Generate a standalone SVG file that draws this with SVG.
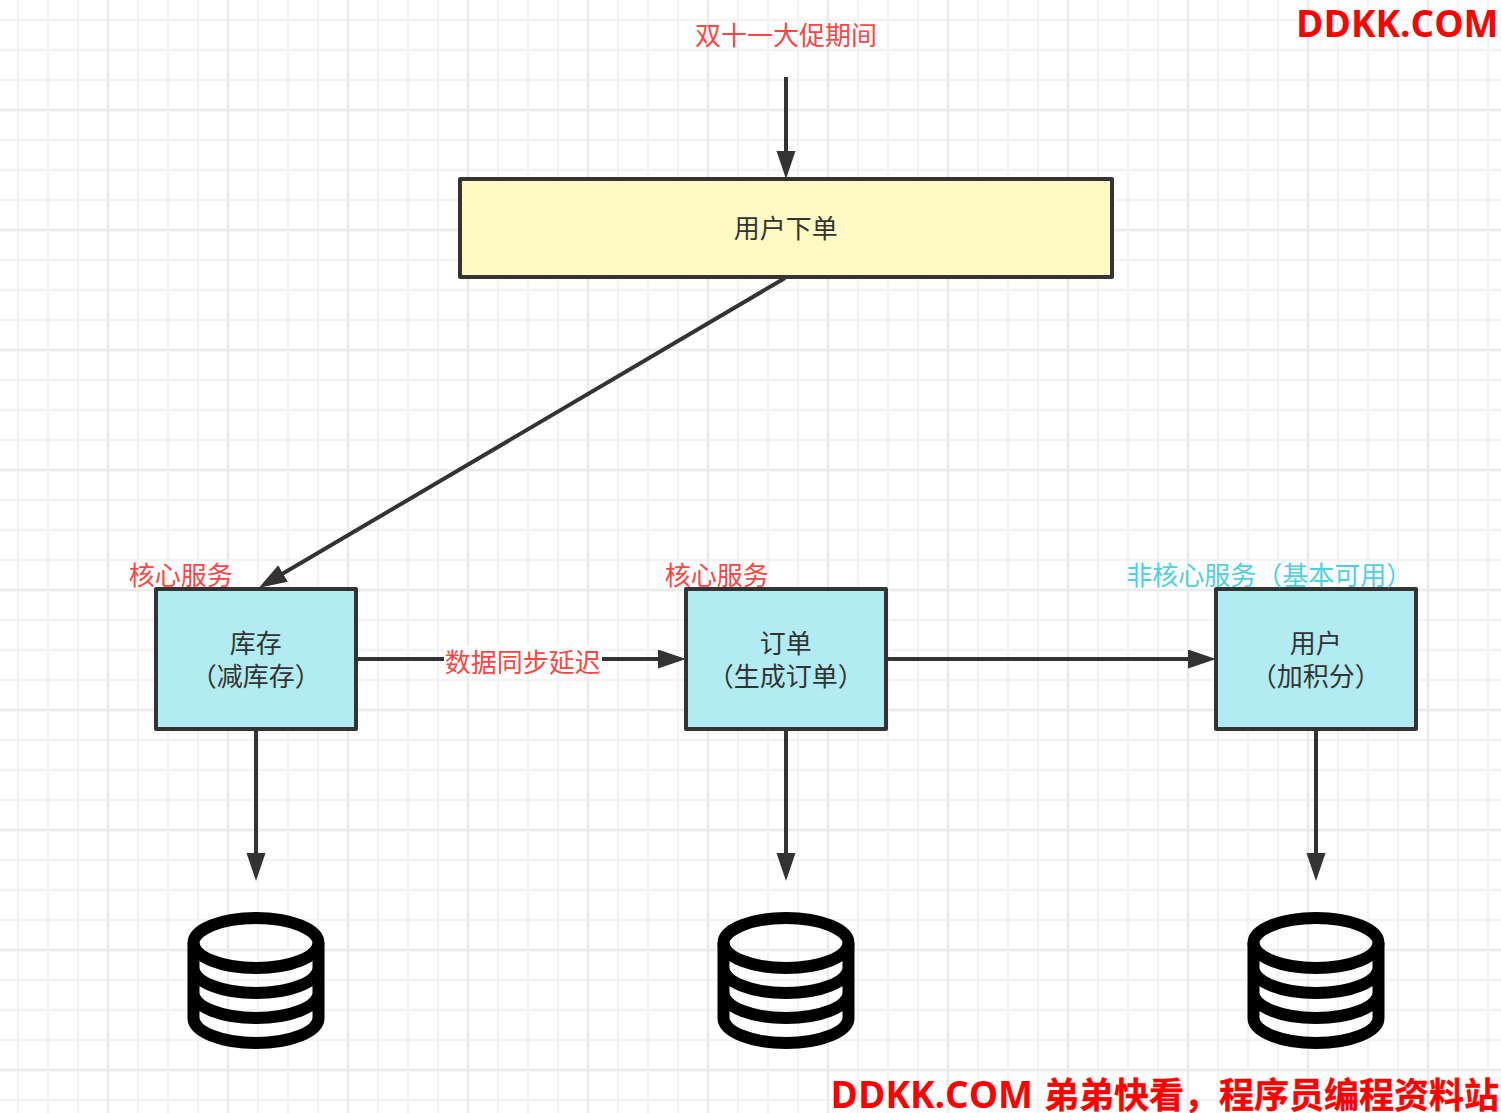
<svg xmlns="http://www.w3.org/2000/svg" width="1501" height="1113" viewBox="0 0 1501 1113">
<style>
text{font-family:"Noto Sans CJK SC","Noto Sans",sans-serif;font-size:26px}
.c{text-anchor:middle;fill:#333}
.r{fill:#ff4444}
.wm{fill:#ff0000;font-weight:700}
.lat{font-family:"Open Sans","Noto Sans",sans-serif;font-size:37px}
.cjk{stroke:#ff0000;stroke-width:.4;font-size:35px}
.box{stroke:#333;stroke-width:4;stroke-linejoin:round}
.blue{fill:#b2ebf2}
.edge{fill:none;stroke:#333;stroke-width:4}
.db{fill:none;stroke:#000;stroke-width:12}
</style>
<defs>
<pattern id="minor" width="30" height="30" patternUnits="userSpaceOnUse" x="3" y="5">
<path d="M15 0V30M0 15H30" fill="none" stroke="#f3f3f3" stroke-width="2.4"/>
</pattern>
<pattern id="major" width="120" height="120" patternUnits="userSpaceOnUse" x="48" y="50">
<path d="M60 0V120M0 60H120" fill="none" stroke="#ebebeb" stroke-width="2.4"/>
</pattern>
<marker id="arrow" markerUnits="userSpaceOnUse" markerWidth="32" markerHeight="22" refX="7" refY="9.5" orient="auto">
<path d="M0 0L28 9.5L0 19Z" fill="#333"/>
</marker>
<g id="cyl">
<ellipse cx="0" cy="943" rx="62.5" ry="25" class="db"/>
<path d="M-62.5 943V1018A62.5 25 0 0 0 62.5 1018V943M-62.5 968A62.5 25 0 0 0 62.5 968M-62.5 993A62.5 25 0 0 0 62.5 993" class="db"/>
</g>
</defs>
<rect width="1501" height="1113" fill="#fff"/>
<rect width="1501" height="1113" fill="url(#minor)"/>
<rect width="1501" height="1113" fill="url(#major)"/>
<g id="connectors">
<path class="edge" d="M786 77V158" marker-end="url(#arrow)"/>
<path class="edge" d="M785 278L277 577" marker-end="url(#arrow)"/>
<path class="edge" d="M357 659H665" marker-end="url(#arrow)"/>
<path class="edge" d="M887 659H1195" marker-end="url(#arrow)"/>
<path class="edge" d="M256 730V860" marker-end="url(#arrow)"/>
<path class="edge" d="M786 730V860" marker-end="url(#arrow)"/>
<path class="edge" d="M1316 730V860" marker-end="url(#arrow)"/>
<rect x="444" y="645" width="158" height="30" fill="#fff"/>
<text class="r" x="522.75" y="672" text-anchor="middle">数据同步延迟</text>
</g>
<g id="promo"><text class="r" x="786" y="45" text-anchor="middle">双十一大促期间</text></g>
<g id="order"><rect class="box" x="460" y="179" width="652" height="98" fill="#fff9c4"/><text class="c" x="785.75" y="238">用户下单</text></g>
<g id="stock"><rect class="box blue" x="156" y="589" width="200" height="140"/><text class="c" x="255.75" y="653">库存</text><text class="c" x="255.75" y="686">（减库存）</text></g>
<g id="orders"><rect class="box blue" x="686" y="589" width="200" height="140"/><text class="c" x="785.75" y="653">订单</text><text class="c" x="785.75" y="686">（生成订单）</text></g>
<g id="user"><rect class="box blue" x="1216" y="589" width="200" height="140"/><text class="c" x="1315.75" y="653">用户</text><text class="c" x="1315.75" y="686">（加积分）</text></g>
<g id="label1"><text class="r" x="128.75" y="585">核心服务</text></g>
<g id="label2"><text class="r" x="664.75" y="585">核心服务</text></g>
<g id="label3"><text x="1126.25" y="585" fill="#4dd0e1">非核心服务（基本可用）</text></g>
<g id="db1"><use href="#cyl" x="256"/></g>
<g id="db2"><use href="#cyl" x="786"/></g>
<g id="db3"><use href="#cyl" x="1316"/></g>
<g id="wm1"><text class="wm lat" x="1498.5" y="37" text-anchor="end">DDKK.COM</text></g>
<g id="wm2"><text class="wm lat" x="1033" y="1108" text-anchor="end">DDKK.COM</text><text class="wm cjk" x="1499" y="1108" text-anchor="end">弟弟快看，程序员编程资料站</text></g>
</svg>
